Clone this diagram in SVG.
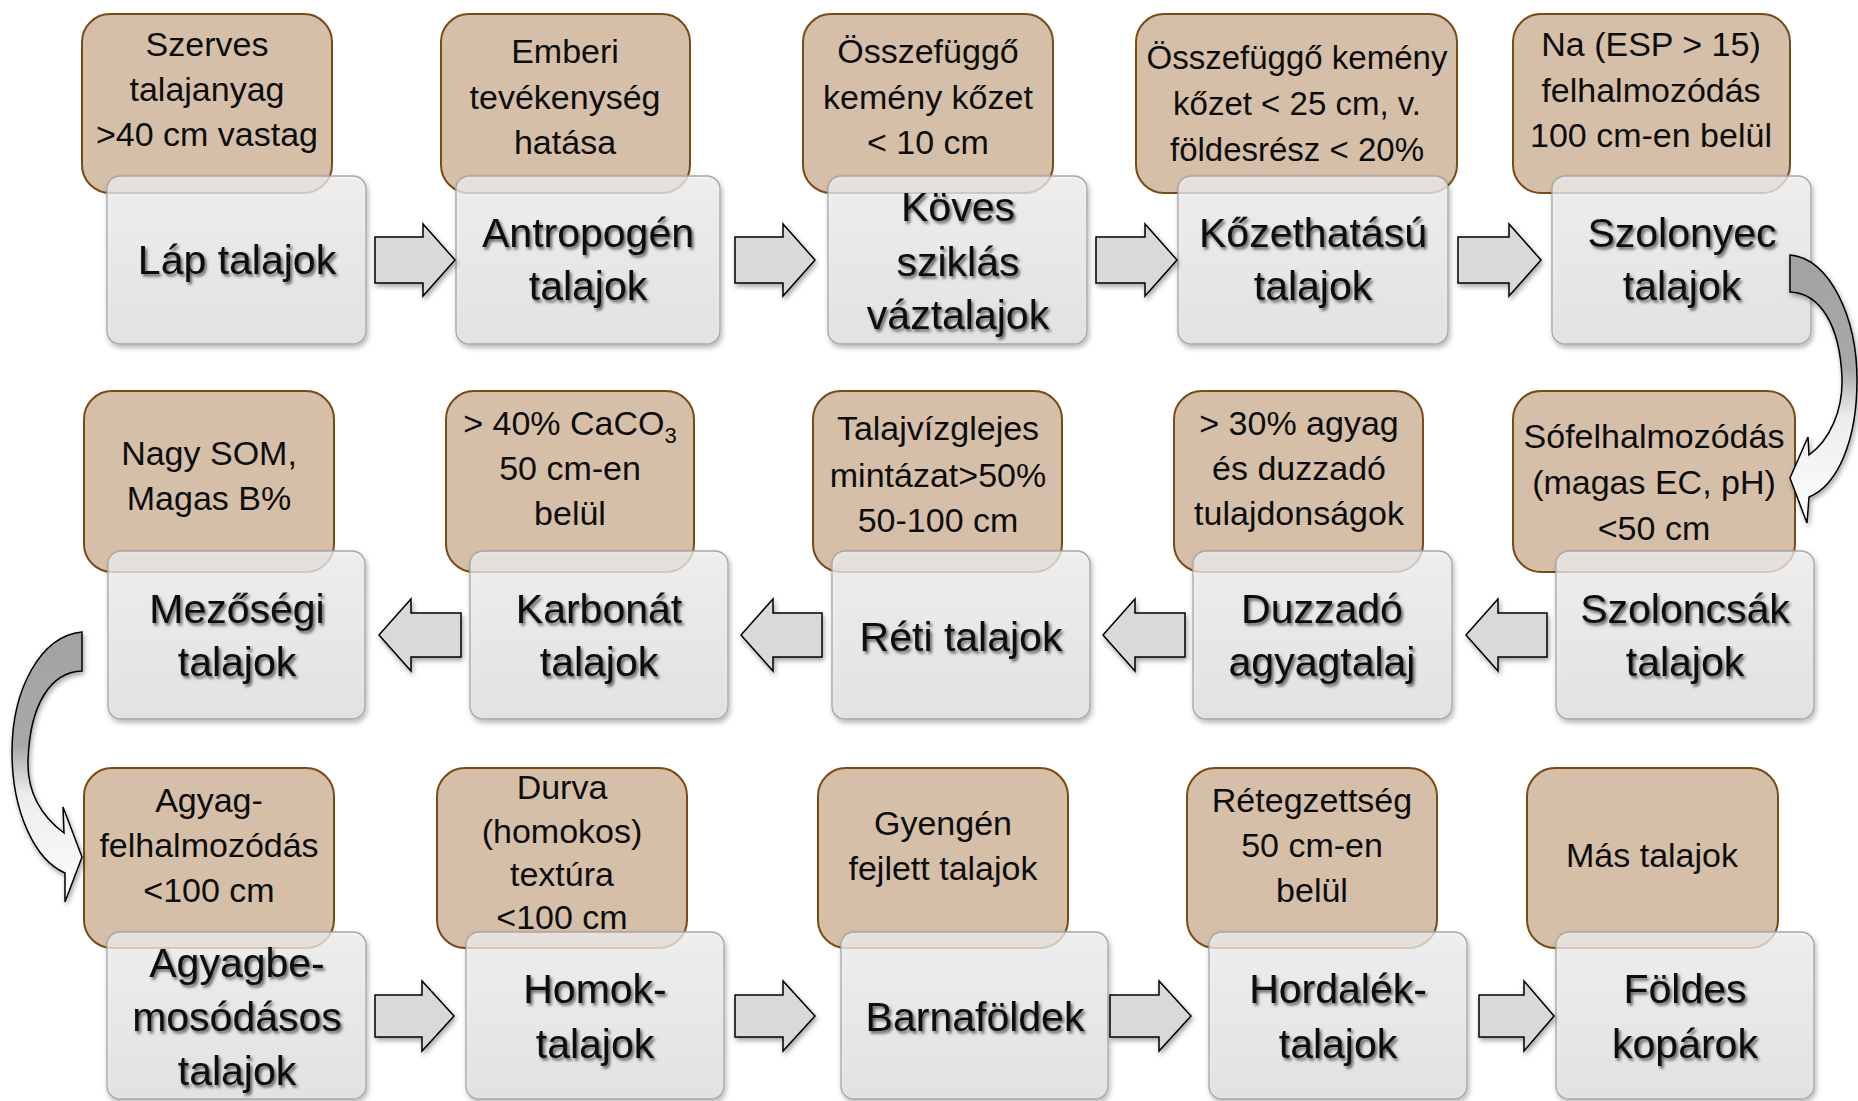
<svg xmlns="http://www.w3.org/2000/svg" width="1858" height="1101" viewBox="0 0 1858 1101">
<defs>
<linearGradient id="gg" x1="0" y1="0" x2="0" y2="1">
<stop offset="0" stop-color="#f3f3f3"/>
<stop offset="1" stop-color="#e3e3e3"/>
</linearGradient>
<linearGradient id="cg" x1="0" y1="0" x2="0" y2="1">
<stop offset="0" stop-color="#a3a3a3"/>
<stop offset="0.42" stop-color="#a8a8a8"/>
<stop offset="0.6" stop-color="#ececec"/>
<stop offset="1" stop-color="#ffffff"/>
</linearGradient>
<filter id="sh" x="-10%" y="-10%" width="125%" height="130%">
<feDropShadow dx="1.5" dy="3" stdDeviation="2.5" flood-color="#000" flood-opacity="0.35"/>
</filter>
<filter id="ts" x="-10%" y="-20%" width="125%" height="150%">
<feDropShadow dx="2" dy="2.5" stdDeviation="1.6" flood-color="#000" flood-opacity="0.6"/>
</filter>
<style>
.brown{fill:#d6bfa8;stroke:#7a4a17;stroke-width:2}
.grey{fill:url(#gg);fill-opacity:0.72;stroke:#a6a6a6;stroke-width:1.3;filter:url(#sh)}
text{font-family:"Liberation Sans",Arial,sans-serif;text-anchor:middle;fill:#0d0d0d}
.bt{font-size:34px}
.bt.s{font-size:33px}
.mt{font-size:41px;filter:url(#ts)}
.arr{fill:#d9d9d9;stroke:#000;stroke-width:1.5;filter:url(#sh)}
.carr{fill:url(#cg);stroke:#000;stroke-width:1.5;filter:url(#sh)}
</style>
</defs>
<rect width="1858" height="1101" fill="#fff"/>

<!-- Row 1 -->
<g id="n1">
<rect class="brown" x="82" y="14" width="250" height="179" rx="28"/>
<text class="bt"><tspan x="207" y="56">Szerves</tspan><tspan x="207" y="101">talajanyag</tspan><tspan x="207" y="146">&gt;40 cm vastag</tspan></text>
<rect class="grey" x="107" y="176" width="259" height="168" rx="13"/>
<text class="mt" x="237" y="274">Láp talajok</text>
</g>
<g id="n2">
<rect class="brown" x="441" y="14" width="249" height="179" rx="28"/>
<text class="bt"><tspan x="565" y="63">Emberi</tspan><tspan x="565" y="109">tevékenység</tspan><tspan x="565" y="154">hatása</tspan></text>
<rect class="grey" x="456" y="176" width="264" height="168" rx="13"/>
<text class="mt"><tspan x="588" y="247">Antropogén</tspan><tspan x="588" y="300">talajok</tspan></text>
</g>
<g id="n3">
<rect class="brown" x="803" y="14" width="250" height="179" rx="28"/>
<text class="bt"><tspan x="928" y="63">Összefüggő</tspan><tspan x="928" y="109">kemény kőzet</tspan><tspan x="928" y="154">&lt; 10 cm</tspan></text>
<rect class="grey" x="828" y="176" width="259" height="168" rx="13"/>
<text class="mt"><tspan x="958" y="221">Köves</tspan><tspan x="958" y="276">sziklás</tspan><tspan x="958" y="329">váztalajok</tspan></text>
</g>
<g id="n4">
<rect class="brown" x="1136" y="14" width="321" height="179" rx="28"/>
<text class="bt s"><tspan x="1297" y="69">Összefüggő kemény</tspan><tspan x="1297" y="115">kőzet &lt; 25 cm, v.</tspan><tspan x="1297" y="161">földesrész &lt; 20%</tspan></text>
<rect class="grey" x="1178" y="176" width="270" height="168" rx="13"/>
<text class="mt"><tspan x="1313" y="247">Kőzethatású</tspan><tspan x="1313" y="300">talajok</tspan></text>
</g>
<g id="n5">
<rect class="brown" x="1513" y="14" width="277" height="179" rx="28"/>
<text class="bt"><tspan x="1651" y="56">Na (ESP &gt; 15)</tspan><tspan x="1651" y="102">felhalmozódás</tspan><tspan x="1651" y="147">100 cm-en belül</tspan></text>
<rect class="grey" x="1552" y="176" width="259" height="168" rx="13"/>
<text class="mt"><tspan x="1682" y="247">Szolonyec</tspan><tspan x="1682" y="300">talajok</tspan></text>
</g>

<!-- Row 2 -->
<g id="n6">
<rect class="brown" x="84" y="391" width="250" height="181" rx="28"/>
<text class="bt"><tspan x="209" y="465">Nagy SOM,</tspan><tspan x="209" y="510">Magas B%</tspan></text>
<rect class="grey" x="108" y="551" width="257" height="168" rx="13"/>
<text class="mt"><tspan x="237" y="623">Mezőségi</tspan><tspan x="237" y="676">talajok</tspan></text>
</g>
<g id="n7">
<rect class="brown" x="446" y="391" width="248" height="181" rx="28"/>
<text class="bt"><tspan x="570" y="435">&gt; 40% CaCO<tspan font-size="22" dy="8">3</tspan></tspan><tspan x="570" y="480">50 cm-en</tspan><tspan x="570" y="525">belül</tspan></text>
<rect class="grey" x="470" y="551" width="258" height="168" rx="13"/>
<text class="mt"><tspan x="599" y="623">Karbonát</tspan><tspan x="599" y="676">talajok</tspan></text>
</g>
<g id="n8">
<rect class="brown" x="813" y="391" width="249" height="181" rx="28"/>
<text class="bt"><tspan x="938" y="440">Talajvízglejes</tspan><tspan x="938" y="487">mintázat&gt;50%</tspan><tspan x="938" y="532">50-100 cm</tspan></text>
<rect class="grey" x="832" y="551" width="258" height="168" rx="13"/>
<text class="mt" x="961" y="651">Réti talajok</text>
</g>
<g id="n9">
<rect class="brown" x="1174" y="391" width="249" height="181" rx="28"/>
<text class="bt"><tspan x="1299" y="435">&gt; 30% agyag</tspan><tspan x="1299" y="480">és duzzadó</tspan><tspan x="1299" y="525">tulajdonságok</tspan></text>
<rect class="grey" x="1193" y="551" width="259" height="168" rx="13"/>
<text class="mt"><tspan x="1322" y="623">Duzzadó</tspan><tspan x="1322" y="676">agyagtalaj</tspan></text>
</g>
<g id="n10">
<rect class="brown" x="1513" y="391" width="282" height="181" rx="28"/>
<text class="bt"><tspan x="1654" y="448">Sófelhalmozódás</tspan><tspan x="1654" y="494">(magas EC, pH)</tspan><tspan x="1654" y="540">&lt;50 cm</tspan></text>
<rect class="grey" x="1556" y="551" width="258" height="168" rx="13"/>
<text class="mt"><tspan x="1685" y="623">Szoloncsák</tspan><tspan x="1685" y="676">talajok</tspan></text>
</g>

<!-- Row 3 -->
<g id="n11">
<rect class="brown" x="84" y="768" width="250" height="180" rx="28"/>
<text class="bt"><tspan x="209" y="812">Agyag-</tspan><tspan x="209" y="857">felhalmozódás</tspan><tspan x="209" y="902">&lt;100 cm</tspan></text>
<rect class="grey" x="107" y="932" width="259" height="167" rx="13"/>
<text class="mt"><tspan x="237" y="977">Agyagbe-</tspan><tspan x="237" y="1031">mosódásos</tspan><tspan x="237" y="1085">talajok</tspan></text>
</g>
<g id="n12">
<rect class="brown" x="437" y="768" width="250" height="180" rx="28"/>
<text class="bt"><tspan x="562" y="799">Durva</tspan><tspan x="562" y="843">(homokos)</tspan><tspan x="562" y="886">textúra</tspan><tspan x="562" y="929">&lt;100 cm</tspan></text>
<rect class="grey" x="466" y="932" width="258" height="167" rx="13"/>
<text class="mt"><tspan x="595" y="1003">Homok-</tspan><tspan x="595" y="1058">talajok</tspan></text>
</g>
<g id="n13">
<rect class="brown" x="818" y="768" width="250" height="180" rx="28"/>
<text class="bt"><tspan x="943" y="835">Gyengén</tspan><tspan x="943" y="880">fejlett talajok</tspan></text>
<rect class="grey" x="841" y="932" width="267" height="167" rx="13"/>
<text class="mt" x="975" y="1031">Barnaföldek</text>
</g>
<g id="n14">
<rect class="brown" x="1187" y="768" width="250" height="180" rx="28"/>
<text class="bt"><tspan x="1312" y="812">Rétegzettség</tspan><tspan x="1312" y="857">50 cm-en</tspan><tspan x="1312" y="902">belül</tspan></text>
<rect class="grey" x="1209" y="932" width="258" height="167" rx="13"/>
<text class="mt"><tspan x="1338" y="1003">Hordalék-</tspan><tspan x="1338" y="1058">talajok</tspan></text>
</g>
<g id="n15">
<rect class="brown" x="1527" y="768" width="251" height="180" rx="28"/>
<text class="bt" x="1652" y="867">Más talajok</text>
<rect class="grey" x="1556" y="932" width="258" height="167" rx="13"/>
<text class="mt"><tspan x="1685" y="1003">Földes</tspan><tspan x="1685" y="1058">kopárok</tspan></text>
</g>

<!-- Connectors -->
<g id="connectors">
<path class="arr" d="M375,237 H423 V224 L455,260 L423,296 V283 H375 Z"/>
<path class="arr" d="M735,237 H783 V224 L815,260 L783,296 V283 H735 Z"/>
<path class="arr" d="M1096,237 H1145 V224 L1177,260 L1145,296 V283 H1096 Z"/>
<path class="arr" d="M1458,237 H1509 V224 L1541,260 L1509,296 V283 H1458 Z"/>
<path class="carr" d="M1790,255 C1830,258 1857,318 1857,380 C1857,440 1838,485 1809,497 L1807,523 L1790,478 L1808,437 L1809,455 C1830,440 1843,410 1842,378 C1840,325 1820,293 1790,292 Z"/>
<path class="arr" d="M1547,613 H1498 V599 L1466,635 L1498,671 V657 H1547 Z"/>
<path class="arr" d="M1185,613 H1135 V599 L1103,635 L1135,671 V657 H1185 Z"/>
<path class="arr" d="M822,613 H773 V599 L741,635 L773,671 V657 H822 Z"/>
<path class="arr" d="M461,613 H411 V599 L379,635 L411,671 V657 H461 Z"/>
<path class="carr" d="M82,632 C40,636 12,690 12,752 C12,812 35,860 65,873 L65,902 L82,857 L63,807 L64,833 C40,815 27,790 28,760 C30,705 50,672 82,671 Z"/>
<path class="arr" d="M375,995 H422 V981 L454,1016 L422,1051 V1037 H375 Z"/>
<path class="arr" d="M735,995 H783 V981 L815,1016 L783,1051 V1037 H735 Z"/>
<path class="arr" d="M1110,995 H1159 V981 L1191,1016 L1159,1051 V1037 H1110 Z"/>
<path class="arr" d="M1479,995 H1524 V981 L1554,1016 L1524,1051 V1037 H1479 Z"/>
</g>
</svg>
